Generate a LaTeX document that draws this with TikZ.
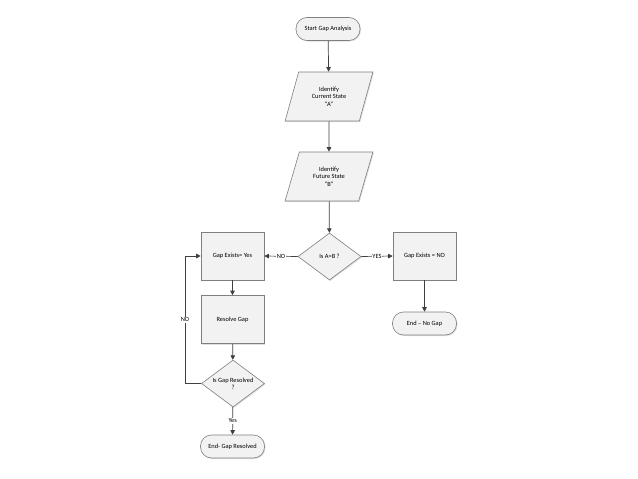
\documentclass[tikz,border=0pt]{standalone}
\usepackage{fontspec}
\setmainfont{Carlito}
\usetikzlibrary{shapes.geometric,arrows.meta,shadows}
\definecolor{edgegray}{HTML}{7F7F7F}
\definecolor{boxfill}{HTML}{F2F2F2}
\definecolor{linegray}{HTML}{404040}
\tikzset{
  base/.style={draw=edgegray, line width=0.6pt, fill=boxfill, font=\fontsize{6.4}{7.4}\selectfont, align=center, inner sep=1pt,
     drop shadow={shadow xshift=1pt, shadow yshift=-1pt, opacity=0.25}},
  term/.style={base, rounded corners=11pt, minimum width=64pt, minimum height=23pt},
  proc/.style={base, rectangle, minimum width=63pt, minimum height=48pt},
  io/.style={base, trapezium, trapezium left angle=69, trapezium right angle=111, trapezium stretches=true, minimum width=88pt, minimum height=49pt},
  dec/.style={base, diamond, aspect=1.34, minimum width=63pt, minimum height=47pt, inner sep=0pt},
  conn/.style={draw=linegray, line width=0.7pt, -{Triangle[width=4.5pt,length=4.5pt]}},
  lab/.style={fill=white, font=\fontsize{6.4}{7.4}\selectfont, inner sep=0.8pt}
}
\begin{document}
\begin{tikzpicture}[x=1pt,y=-1pt]
\useasboundingbox (0,0) rectangle (638,479);
\node[term] (start) at (328,29) {Start Gap Analysis};
\node[io] (p1) at (329,96.5) {Identify\\Current State\\``A''};
\node[io] (p2) at (329,176.5) {Identify\\Future State\\``B''};
\node[dec] (d1) at (329.5,256.5) {Is A=B ?};
\node[proc] (gy) at (232.5,256) {Gap Exists= Yes};
\node[proc] (gn) at (424.5,256) {Gap Exists = NO};
\node[term] (endno) at (424.5,323.5) {End -- No Gap};
\node[proc] (res) at (232.5,319.5) {Resolve Gap};
\node[dec] (d2) at (233,383.5) {Is Gap Resolved\\?};
\node[term] (endres) at (232.5,446.5) {End- Gap Resolved};
\coordinate (loop) at (185,383.5);
\draw[conn] (start) -- (p1);
\draw[conn] (p1) -- (p2);
\draw[conn] (p2) -- (d1);
\draw[conn] (d1.west) -- node[lab]{NO} (gy.east);
\draw[conn] (d1.east) -- node[lab]{YES} (gn.west);
\draw[conn] (gn) -- (endno);
\draw[conn] (gy) -- (res);
\draw[conn] (res) -- (d2);
\draw[conn] (d2) -- node[lab]{Yes} (endres);
\draw[conn] (d2.west) -- (loop) -- node[lab]{NO} (loop |- gy.west) -- (gy.west);
\end{tikzpicture}
\end{document}
